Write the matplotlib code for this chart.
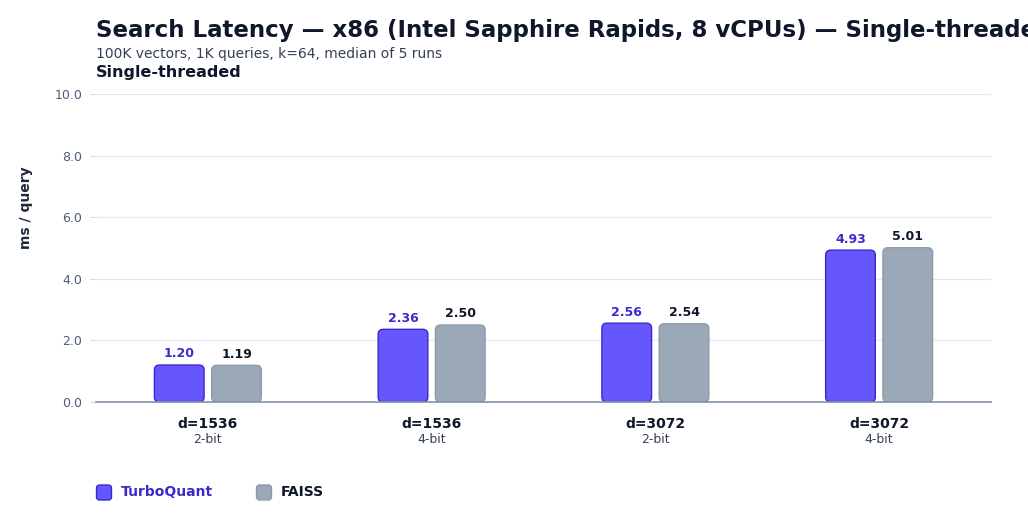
import matplotlib
matplotlib.use("Agg")
import matplotlib.pyplot as plt
from matplotlib.patches import FancyBboxPatch
import numpy as np

groups = ["d=1536", "d=1536", "d=3072", "d=3072"]
subgroups = ["2-bit", "4-bit", "2-bit", "4-bit"]
turbo = [1.20, 2.36, 2.56, 4.93]
faiss = [1.19, 2.50, 2.54, 5.01]
yticks = [0.0, 2.0, 4.0, 6.0, 8.0, 10.0]

TQ_FILL = "#6557fd"
TQ_EDGE = "#3a28cf"
TQ_TEXT = "#3b2bcc"
FA_FILL = "#9aa8b8"
FA_EDGE = "#8d9bad"
DARK = "#0f172a"
SLATE = "#334155"
TICK = "#4b5b78"

fig = plt.figure(figsize=(10.28, 5.25), dpi=100)
ax = fig.add_axes([96/1028, 123/525, 895/1028, 308/525])

x = np.arange(len(groups))
w = 0.222
off = 0.128
ax.set_xlim(-0.5, 3.5)
ax.set_ylim(0, 10)

px_x = 895 / 4.0
px_y = 308 / 10.0
r_px = 5
aspect = (r_px / px_y) / (r_px / px_x)

def rbar(xc, h, fill, edge):
    b = ax.bar(xc, h, w, color="none")
    for p in b:
        x0, y0 = p.get_x(), p.get_y()
        fp = FancyBboxPatch((x0, y0), p.get_width(), p.get_height(),
                            boxstyle=f"round,pad=0,rounding_size={r_px/px_x}",
                            mutation_aspect=aspect,
                            facecolor=fill, edgecolor=edge, linewidth=1.0, zorder=3)
        ax.add_patch(fp)
        p.remove()

rbar(x - off, turbo, TQ_FILL, TQ_EDGE)
rbar(x + off, faiss, FA_FILL, FA_EDGE)

for xi, v in zip(x - off, turbo):
    ax.text(xi, v + 0.15, f"{v:.2f}", ha="center", va="bottom", fontsize=9,
            fontweight="bold", color=TQ_TEXT)
for xi, v in zip(x + off, faiss):
    ax.text(xi, v + 0.15, f"{v:.2f}", ha="center", va="bottom", fontsize=9,
            fontweight="bold", color=DARK)

ax.set_yticks(yticks)
ax.set_yticklabels([f"{t:.1f}" for t in yticks])
ax.tick_params(axis="y", colors="#d5dbe3", labelcolor=TICK, labelsize=9, length=4, width=0.8, pad=6)
ax.set_xticks([])
ax.grid(axis="y", color="#e2e8f0", linewidth=0.9, zorder=0)
ax.set_axisbelow(True)
for s in ["top", "right", "left"]:
    ax.spines[s].set_visible(False)
ax.spines["bottom"].set_color("#8391a7")
ax.spines["bottom"].set_linewidth(1.2)
ax.spines["bottom"].set_zorder(4)

for xi, g, sg in zip(x, groups, subgroups):
    ax.text(xi, -0.48, g, transform=ax.transData, ha="center", va="top",
            fontsize=10, fontweight="bold", color=DARK)
    ax.text(xi, -1.02, sg, transform=ax.transData, ha="center", va="top",
            fontsize=9, color=SLATE)

fig.text(26/1028, 1 - 208/525, "ms / query", rotation=90, ha="center", va="center",
         fontsize=10, fontweight="bold", color="#1e293b")

fig.text(96/1028, 1 - 30/525, "Search Latency — x86 (Intel Sapphire Rapids, 8 vCPUs) — Single-threaded",
         ha="left", va="center", fontsize=16.5, fontweight="bold", color=DARK)
fig.text(96/1028, 1 - 54/525, "100K vectors, 1K queries, k=64, median of 5 runs",
         ha="left", va="center", fontsize=10, color=SLATE)
fig.text(96/1028, 1 - 72/525, "Single-threaded",
         ha="left", va="center", fontsize=11.5, fontweight="bold", color=DARK)

def leg(xpx, fill, edge, label, tcolor):
    p = FancyBboxPatch((xpx/1028, 1 - 500/525), 15/1028, 15/525,
                       boxstyle=f"round,pad=0,rounding_size={3/1028}",
                       mutation_aspect=1028/525,
                       transform=fig.transFigure, facecolor=fill, edgecolor=edge,
                       linewidth=1.0)
    fig.patches.append(p)
    fig.text((xpx + 24.5)/1028, 1 - 492/525, label, ha="left", va="center",
             fontsize=10, fontweight="bold", color=tcolor)

leg(96.5, TQ_FILL, TQ_EDGE, "TurboQuant", TQ_TEXT)
leg(256.5, FA_FILL, FA_EDGE, "FAISS", DARK)

fig.savefig("out.png", dpi=100, facecolor="white")
